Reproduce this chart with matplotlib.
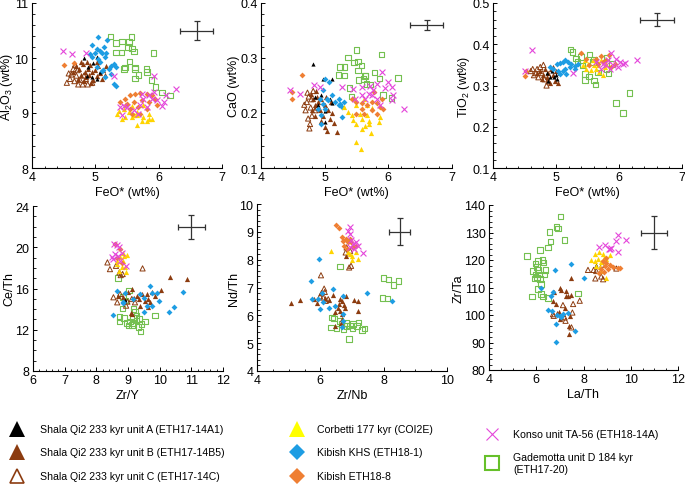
import numpy as np
import matplotlib
matplotlib.use("Agg")
import matplotlib.pyplot as plt
from matplotlib.lines import Line2D
from matplotlib.ticker import MultipleLocator, FormatStrFormatter

plt.rcParams['font.family'] = ['Liberation Sans', 'DejaVu Sans']
plt.rcParams['mathtext.default'] = 'regular'

# ---- data: (x, y) pairs, one dict per panel ----
al2o3 = {
    'gad': [(5.24,10.39),(5.33,10.27),(5.42,10.30),(5.53,10.29),(5.57,10.38),(5.52,10.20),(5.58,10.17),
            (5.61,10.12),(5.41,10.10),(5.33,10.10),(5.92,10.09),(5.54,9.94),(5.47,9.83),(5.45,9.80),
            (5.63,9.83),(5.63,9.80),(5.68,9.69),(5.63,9.63),(5.81,9.80),(5.82,9.75),(5.89,9.60),
            (5.95,9.47),(6.05,9.37),(6.18,9.32)],
    'C': [(4.55,9.55),(4.60,9.62),(4.62,9.70),(4.67,9.58),(4.70,9.68),(4.73,9.52),(4.76,9.60),(4.80,9.52),
          (4.85,9.62),(4.88,9.52),(4.65,9.80),(4.72,9.78),(4.95,9.55),(4.58,9.72),(4.68,9.88),(4.82,9.68)],
    'B': [(4.65,9.75),(4.70,9.85),(4.75,9.80),(4.78,9.70),(4.80,9.90),(4.83,9.75),(4.85,9.65),(4.88,9.80),
          (4.90,9.70),(4.92,9.88),(4.95,9.75),(4.97,9.60),(5.00,9.78),(5.02,9.68),(5.05,9.85),(5.07,9.72),
          (5.10,9.62),(5.12,9.78),(5.15,9.70),(4.72,9.62),(4.82,9.58),(4.93,9.55),(5.03,9.92),(4.87,9.93),
          (5.17,9.85),(4.77,9.93)],
    'A': [(4.82,10.00),(5.02,10.01),(4.87,9.68),(4.95,9.65),(5.03,9.62),(5.08,9.74),(4.89,9.83),(4.97,9.91)],
    'khs': [(5.04,10.38),(5.18,10.32),(4.95,10.23),(5.03,10.17),(5.08,10.13),(5.11,10.10),(5.00,10.10),
            (4.92,10.07),(5.13,10.20),(5.17,10.09),(4.95,10.01),(5.05,9.98),(5.16,10.01),(5.08,9.92),
            (5.24,9.86),(5.32,9.83),(5.29,9.89),(5.21,9.80),(5.12,9.79),(5.03,9.83),(5.24,9.71),
            (5.29,9.53),(5.32,9.49),(5.11,9.77),(5.16,9.65)],
    'cor': [(5.37,9.03),(5.45,9.08),(5.53,9.02),(5.61,8.96),(5.66,9.02),(5.76,8.93),(5.84,8.99),(5.89,8.90),
            (5.82,8.86),(5.74,8.86),(5.66,8.96),(5.58,8.93),(5.47,8.93),(5.42,8.90),(5.34,8.99),(5.66,8.79),
            (5.84,8.90),(5.47,9.14),(5.58,9.12),(5.76,9.14)],
    'k8': [(4.50,9.88),(4.67,9.91),(5.47,9.26),(5.55,9.32),(5.63,9.35),(5.71,9.37),(5.82,9.35),(5.89,9.32),
           (5.95,9.26),(5.50,9.17),(5.61,9.20),(5.74,9.23),(5.84,9.20),(5.39,9.20),(5.55,9.08),(5.68,9.11),
           (5.82,9.08),(5.71,8.99),(5.58,8.99),(5.97,9.14)],
    'konso': [(4.49,10.13),(4.63,10.07),(4.86,10.10),(5.29,9.67),(5.92,9.67),(6.27,9.44),(6.11,9.32),
              (6.08,9.20),(5.92,9.38),(5.89,9.26),(5.84,9.32),(5.76,9.26),(5.71,9.14),(5.61,9.05),(5.50,9.11),
              (5.45,9.12),(5.39,9.11),(5.42,8.96),(5.97,9.23),(6.05,9.12),(5.74,9.35),(5.82,9.11),(5.68,8.99)],
}

cao = {
    'gad': [(5.37,0.301),(5.50,0.315),(5.52,0.294),(5.46,0.292),(5.58,0.286),(5.31,0.284),(5.24,0.284),
            (5.22,0.269),(5.31,0.268),(5.52,0.277),(5.53,0.260),(5.61,0.262),(5.63,0.267),(5.64,0.268),
            (5.78,0.274),(5.89,0.306),(5.86,0.263),(6.15,0.264),(5.66,0.253),(5.71,0.252),(5.39,0.245),
            (5.42,0.230),(6.05,0.227),(5.92,0.233)],
    'C': [(4.72,0.220),(4.75,0.230),(4.78,0.210),(4.80,0.195),(4.70,0.205),(4.74,0.190),(4.77,0.180),
          (4.82,0.240),(4.68,0.215),(4.73,0.237),(4.85,0.205),(4.79,0.225),(4.76,0.172),(4.88,0.210)],
    'B': [(4.78,0.235),(4.82,0.225),(4.85,0.215),(4.88,0.230),(4.90,0.220),(4.92,0.205),(4.95,0.225),
          (4.97,0.195),(5.00,0.215),(5.02,0.230),(5.05,0.205),(5.08,0.190),(5.10,0.220),(5.12,0.200),
          (5.14,0.182),(5.00,0.175),(5.04,0.168),(4.85,0.195),(4.80,0.205),(5.20,0.165),(4.95,0.185),
          (4.87,0.240)],
    'A': [(4.81,0.289),(4.98,0.261),(5.11,0.261),(4.85,0.229),(4.95,0.232),(5.09,0.226),(4.90,0.214),
          (5.00,0.203),(5.01,0.183),(5.11,0.218)],
    'khs': [(5.01,0.261),(5.07,0.256),(4.98,0.241),(4.93,0.226),(4.98,0.217),(4.90,0.208),(5.01,0.208),
            (5.06,0.223),(5.11,0.232),(5.22,0.226),(5.24,0.217),(5.22,0.214),(5.30,0.220),(5.27,0.211),
            (5.16,0.220),(5.03,0.226),(4.95,0.196),(4.95,0.180),(5.27,0.193)],
    'cor': [(5.30,0.211),(5.37,0.202),(5.43,0.196),(5.45,0.187),(5.50,0.180),(5.58,0.171),(5.64,0.177),
            (5.69,0.186),(5.69,0.180),(5.66,0.196),(5.56,0.199),(5.50,0.214),(5.48,0.226),(5.61,0.226),
            (5.66,0.215),(5.74,0.209),(5.87,0.193),(5.85,0.183),(5.73,0.164),(5.50,0.147),(5.57,0.135),
            (5.58,0.189)],
    'k8': [(4.65,0.269),(4.48,0.238),(4.48,0.226),(5.43,0.226),(5.50,0.220),(5.58,0.208),(5.66,0.214),
           (5.74,0.205),(5.82,0.199),(5.87,0.211),(5.92,0.208),(5.50,0.199),(5.62,0.199),(5.74,0.220),
           (5.82,0.219),(5.58,0.218),(5.77,0.238),(5.90,0.226)],
    'konso': [(4.46,0.241),(4.62,0.235),(4.84,0.251),(4.93,0.247),(5.27,0.248),(5.45,0.244),(5.58,0.247),
              (5.71,0.249),(5.82,0.253),(5.90,0.274),(5.99,0.257),(6.06,0.247),(6.08,0.232),(6.05,0.223),
              (6.24,0.208),(5.74,0.232),(5.82,0.226),(5.87,0.215),(5.64,0.226),(5.69,0.235),(5.94,0.245),
              (5.48,0.226),(5.58,0.232),(5.76,0.241)],
}

tio2 = {
    'gad': [(5.23,0.387),(5.26,0.381),(5.32,0.365),(5.34,0.357),(5.40,0.369),(5.42,0.348),(5.46,0.328),
            (5.46,0.314),(5.52,0.322),(5.60,0.312),(5.63,0.302),(5.53,0.375),(5.59,0.357),(5.67,0.332),
            (5.80,0.340),(5.83,0.329),(5.89,0.352),(5.80,0.368),(6.17,0.282),(5.95,0.258),(6.06,0.234),
            (5.60,0.363)],
    'C': [(4.60,0.335),(4.63,0.340),(4.65,0.325),(4.68,0.330),(4.72,0.320),(4.75,0.345),(4.78,0.330),
          (4.82,0.315),(4.85,0.300),(4.88,0.310),(4.80,0.350),(4.70,0.340)],
    'B': [(4.70,0.330),(4.75,0.335),(4.80,0.325),(4.83,0.340),(4.85,0.320),(4.88,0.330),(4.92,0.340),
          (4.95,0.325),(4.98,0.310),(5.00,0.335),(5.03,0.305),(4.78,0.315),(4.90,0.305),(4.96,0.345)],
    'A': [(4.85,0.330),(4.90,0.320),(4.93,0.335),(4.97,0.320),(5.00,0.325),(5.05,0.330),(4.88,0.310),
          (5.02,0.315)],
    'khs': [(5.01,0.352),(5.06,0.355),(5.11,0.358),(5.14,0.361),(5.19,0.356),(5.24,0.352),(5.30,0.348),
            (5.35,0.352),(4.90,0.344),(4.96,0.340),(5.03,0.336),(5.11,0.334),(5.16,0.328),(5.14,0.340),
            (5.22,0.344),(5.06,0.328),(5.30,0.340)],
    'cor': [(5.43,0.349),(5.48,0.341),(5.56,0.337),(5.64,0.341),(5.69,0.333),(5.75,0.326),(5.51,0.353),
            (5.59,0.361),(5.67,0.349),(5.77,0.345),(5.80,0.353),(5.46,0.361),(5.61,0.349),(5.72,0.361)],
    'k8': [(4.50,0.323),(4.53,0.334),(5.40,0.379),(5.48,0.365),(5.64,0.365),(5.72,0.371),(5.84,0.373),
           (5.80,0.363),(5.93,0.353),(5.67,0.353),(5.53,0.350),(5.75,0.356),(5.88,0.345)],
    'konso': [(4.62,0.387),(4.50,0.336),(5.27,0.330),(5.88,0.378),(6.09,0.355),(6.28,0.363),(5.64,0.357),
              (5.75,0.353),(5.83,0.361),(5.90,0.349),(5.96,0.365),(5.72,0.341),(5.85,0.341),(5.98,0.345),
              (5.80,0.349),(6.01,0.357),(6.06,0.351)],
}

ce_th = {
    'gad': [(9.04,15.79),(8.85,15.15),(8.90,14.82),(9.17,14.02),(9.22,13.70),(8.83,14.08),(8.73,13.21),
            (8.73,12.80),(8.87,13.12),(8.96,12.67),(9.06,12.80),(9.12,12.47),(9.17,12.67),(9.27,12.89),
            (9.36,13.05),(9.43,12.57),(9.27,13.38),(9.15,13.12),(9.01,12.41),(9.40,11.83),(9.86,13.38),
            (9.54,12.80),(9.33,12.25),(8.69,17.01)],
    'C': [(8.35,18.53),(8.43,17.88),(8.62,18.20),(8.73,17.56),(8.77,17.30),(8.83,17.40),(9.46,17.95),
          (8.54,15.15),(8.66,14.66),(8.94,14.34),(8.98,14.73),(9.12,14.98),(8.75,15.47),(9.22,14.66)],
    'B': [(8.69,15.31),(8.83,15.15),(8.99,15.63),(9.13,15.95),(9.27,15.24),(9.36,14.98),(9.43,15.47),
          (9.59,15.47),(9.64,14.98),(9.75,15.63),(9.86,15.31),(10.05,15.89),(10.33,17.08),(10.86,16.92),
          (9.12,13.54),(9.38,14.28),(9.64,14.18),(9.19,15.08),(9.54,14.82),(9.70,14.66),(9.08,13.63)],
    'A': [(8.90,14.90)],
    'khs': [(8.64,15.79),(8.54,13.47),(8.90,15.56),(9.15,14.98),(8.83,14.73),(9.38,15.47),(9.51,15.11),
            (9.68,16.27),(9.75,15.56),(9.91,15.53),(9.99,14.79),(9.59,14.28),(9.49,13.76),(9.75,14.34),
            (10.28,13.76),(10.46,14.18),(10.73,15.63),(8.85,14.60)],
    'cor': [(8.98,19.27),(8.83,19.49),(8.75,19.01),(8.85,18.69),(8.66,18.37),(8.80,18.04),(8.90,18.04),
            (8.71,17.72),(8.93,17.56),(8.64,18.69),(8.87,19.17)],
    'k8': [(8.59,20.30),(8.75,19.80),(8.66,19.00),(8.80,18.50)],
    'konso': [(8.56,20.30),(8.64,20.23),(8.73,19.98),(8.59,19.33),(8.69,19.17),(8.80,19.49),(8.54,18.85),
              (8.94,18.20),(8.75,18.69),(8.48,19.01)],
}

nd_th = {
    'gad': [(6.62,7.76),(7.99,7.35),(8.15,7.28),(8.31,7.08),(8.47,7.23),(7.97,6.63),(8.12,6.60),(6.36,5.92),
            (6.44,5.88),(6.62,5.80),(6.33,5.56),(6.51,5.52),(6.73,5.50),(6.83,5.72),(6.94,5.64),(7.04,5.68),
            (7.15,5.62),(7.01,5.52),(7.31,5.48),(7.39,5.52),(6.90,5.14),(6.83,5.62),(6.67,5.68),(7.20,5.74)],
    'C': [(6.83,8.44),(6.94,8.32),(6.97,7.78),(6.91,7.72),(6.02,7.44),(6.12,6.96),(6.14,6.84),(6.04,6.80),
          (5.99,6.68),(6.09,6.64),(6.17,6.52),(6.25,6.58),(6.80,8.26)],
    'B': [(6.80,8.14),(5.06,6.44),(5.35,6.56),(5.81,6.60),(5.91,6.46),(6.14,6.64),(6.27,6.56),(6.41,6.72),
          (6.62,6.58),(6.69,6.52),(6.75,6.36),(6.80,6.68),(6.59,6.40),(6.46,6.12),(6.62,6.16),(6.78,6.28),
          (7.06,6.56),(7.20,6.51),(7.18,6.15),(6.69,5.86),(6.65,5.72),(6.46,5.62),(6.69,6.04),(6.57,6.28)],
    'A': [],
    'khs': [(5.96,8.02),(5.69,7.24),(6.04,6.82),(6.41,6.94),(5.75,6.60),(5.99,6.22),(5.93,6.60),(6.09,6.48),
            (6.27,6.28),(6.46,6.32),(6.73,6.70),(6.73,6.04),(6.73,5.78),(6.69,5.58),(7.46,6.80),(8.26,6.52)],
    'cor': [(6.33,8.32),(6.88,8.26),(6.99,8.14),(7.12,8.26),(7.18,8.04),(6.99,7.98),(7.04,8.50),(6.94,8.20)],
    'k8': [(6.51,9.24),(6.60,9.12),(6.67,8.80),(6.73,8.68),(6.80,8.74),(6.88,8.62),(6.76,8.50),(6.97,8.64),
           (7.04,8.44),(6.83,8.38),(7.12,8.50),(6.94,8.76)],
    'konso': [(6.94,9.16),(6.94,8.92),(6.97,8.72),(7.04,8.56),(7.12,8.62),(7.20,8.50),(6.94,8.44),
              (7.34,8.24),(7.07,8.40),(6.88,9.04)],
}

zr_ta = {
    'gad': [(7.02,135.8),(6.85,132.1),(6.92,131.4),(6.57,130.2),(7.20,127.3),(6.60,126.8),(6.50,124.5),
            (6.17,123.7),(5.61,121.5),(6.26,120.0),(6.07,119.7),(6.31,119.1),(5.97,118.7),(6.03,117.5),
            (5.86,116.0),(6.07,116.3),(6.40,116.4),(6.35,114.8),(6.14,114.8),(5.97,114.8),(6.03,113.6),
            (6.17,113.0),(5.93,113.3),(6.21,111.2),(6.07,109.4),(6.21,107.6),(6.28,106.7),(5.81,106.7),
            (6.50,106.1),(7.77,107.8)],
    'C': [(8.19,116.4),(8.43,116.4),(8.54,116.0),(8.50,113.3),(8.75,114.0),(8.83,113.0),(8.80,118.3),
          (9.39,116.9),(7.84,105.2),(7.56,104.0),(7.13,103.6),(6.74,99.7),(7.20,99.1),(7.24,97.9),
          (7.53,100.9),(7.49,95.5),(6.71,100.3)],
    'B': [(7.49,113.6),(6.99,110.0),(7.06,109.2),(6.74,108.4),(7.25,108.8),(6.71,105.2),(6.85,104.0),
          (7.34,107.0),(7.49,107.2),(7.23,102.7),(6.96,101.2),(6.88,100.9),(7.13,100.3),(7.06,99.1),
          (6.99,98.5),(7.41,99.7),(7.38,96.1),(7.37,93.1),(7.27,107.0)],
    'A': [(8.54,118.3)],
    'khs': [(6.78,116.4),(7.48,118.5),(8.01,113.6),(6.22,110.0),(6.61,107.0),(6.71,108.4),(6.50,101.9),
            (6.68,101.5),(6.88,100.0),(7.13,100.3),(7.06,99.1),(7.34,100.9),(6.85,96.7),(6.82,90.3),
            (7.63,94.3),(6.99,99.7)],
    'cor': [(8.33,119.9),(8.47,122.1),(8.66,122.9),(8.82,122.1),(8.85,120.9),(8.75,119.1),(8.54,117.9),
            (8.68,117.3),(8.94,120.5),(9.14,121.7),(8.75,116.0),(8.94,113.6),(8.47,119.7),(8.61,120.3)],
    'k8': [(8.82,119.7),(8.97,118.8),(8.90,117.9),(8.75,116.7),(9.04,116.7),(9.11,118.1),(8.97,120.9),
           (9.25,117.3),(9.46,117.0),(9.53,117.1),(8.86,115.7),(8.66,115.2)],
    'konso': [(8.66,124.8),(8.92,125.4),(9.08,123.9),(9.18,124.5),(9.39,126.9),(9.46,129.0),(9.78,127.2),
              (9.46,123.0),(9.11,123.9)],
}

# error bars: (x, y, xerr, yerr)
errbars = [(6.6, 10.5, 0.26, 0.17), (6.6, 0.36, 0.26, 0.009), (6.6, 0.46, 0.27, 0.016),
           (11.0, 22.0, 0.42, 1.16), (8.5, 9.0, 0.33, 0.49), (11.0, 130.0, 0.55, 6.0)]

labels = {
    'A': 'Shala Qi2 233 kyr unit A (ETH17-14A1)',
    'B': 'Shala Qi2 233 kyr unit B (ETH17-14B5)',
    'C': 'Shala Qi2 233 kyr unit C (ETH17-14C)',
    'cor': 'Corbetti 177 kyr (COI2E)',
    'khs': 'Kibish KHS (ETH18-1)',
    'k8': 'Kibish ETH18-8',
    'konso': 'Konso unit TA-56 (ETH18-14A)',
    'gad': 'Gademotta unit D 184 kyr\n(ETH17-20)',
}

BROWN = '#8c3c10'
styles = {
    'gad': dict(marker='s', facecolors='none', edgecolors='#74c050', s=16, linewidths=0.8),
    'C': dict(marker='^', facecolors='none', edgecolors=BROWN, s=14, linewidths=0.7),
    'B': dict(marker='^', color=BROWN, s=14, linewidths=0),
    'A': dict(marker='^', color='black', s=9, linewidths=0),
    'khs': dict(marker='D', color='#1e9de3', s=9, linewidths=0),
    'cor': dict(marker='^', color='#ffd400', s=14, linewidths=0),
    'k8': dict(marker='D', color='#ef7f33', s=9, linewidths=0),
    'konso': dict(marker='x', color='#e446da', s=18, linewidths=0.8),
}
order = ['gad', 'C', 'B', 'A', 'khs', 'cor', 'k8', 'konso']

fig = plt.figure(figsize=(6.85, 4.85), dpi=100)

panels = [
    (al2o3, [32, 4, 190, 165], (4, 7), (8, 11), 1, 0.2, 1, 0.2, 'FeO* (wt%)', r'Al$_2$O$_3$ (wt%)', '%g', '%g'),
    (cao, [261, 4, 191, 165], (4, 7), (0.1, 0.4), 1, 0.2, 0.1, 0.02, 'FeO* (wt%)', 'CaO (wt%)', '%g', '%.1f'),
    (tio2, [493, 4, 189, 165], (4, 7), (0.1, 0.5), 1, 0.2, 0.1, 0.02, 'FeO* (wt%)', r'TiO$_2$ (wt%)', '%g', '%.1f'),
    (ce_th, [33, 207, 190, 165], (6, 12), (8, 24), 1, 0.2, 4, 1, 'Zr/Y', 'Ce/Th', '%g', '%g'),
    (nd_th, [257, 205, 190, 167], (4, 10), (4, 10), 2, 0.5, 1, 0.2, 'Zr/Nb', 'Nd/Th', '%g', '%g'),
    (zr_ta, [489, 206, 189, 165], (4, 12), (80, 140), 2, 0.5, 10, 2, 'La/Th', 'Zr/Ta', '%g', '%g'),
]

W, H = 685, 485
for i, (data, box, xl, yl, xmaj, xmin, ymaj, ymin, xlab, ylab, xf, yf) in enumerate(panels):
    l, t, w, h = box
    ax = fig.add_axes([l / W, 1 - (t + h) / H, w / W, h / H])
    for g in order:
        pts = np.array(data[g]).reshape(-1, 2)
        if len(pts):
            ax.scatter(pts[:, 0], pts[:, 1], **styles[g])
    ex, ey, exe, eye = errbars[i]
    ax.errorbar([ex], [ey], xerr=[exe], yerr=[eye], fmt='none', ecolor='#333333',
                elinewidth=0.9, capsize=2.5, capthick=0.9)
    ax.set_xlim(*xl)
    ax.set_ylim(*yl)
    ax.xaxis.set_major_locator(MultipleLocator(xmaj))
    ax.xaxis.set_minor_locator(MultipleLocator(xmin))
    ax.yaxis.set_major_locator(MultipleLocator(ymaj))
    ax.yaxis.set_minor_locator(MultipleLocator(ymin))
    ax.xaxis.set_major_formatter(FormatStrFormatter(xf))
    ax.yaxis.set_major_formatter(FormatStrFormatter(yf))
    for s in ['top', 'right']:
        ax.spines[s].set_visible(False)
    for s in ['left', 'bottom']:
        ax.spines[s].set_linewidth(0.8)
    ax.tick_params(which='major', direction='in', length=3, width=0.7, labelsize=9, pad=2.5)
    ax.tick_params(which='minor', direction='in', length=1.8, width=0.6)
    ax.set_xlabel(xlab, fontsize=9, labelpad=2)
    ax.set_ylabel(ylab, fontsize=9, labelpad=0)

# ---- legend, drawn by hand below the panels ----
leg_marks = {
    'A': dict(marker='^', color='black', ms=11, mew=0),
    'B': dict(marker='^', color=BROWN, ms=11, mew=0),
    'C': dict(marker='^', mfc='none', mec=BROWN, ms=10, mew=1.2),
    'cor': dict(marker='^', color='#ffff00', ms=11, mew=0),
    'khs': dict(marker='D', color='#1e9de3', ms=8, mew=0),
    'k8': dict(marker='D', color='#ef7f33', ms=8, mew=0),
    'konso': dict(marker='x', color='#e446da', ms=8, mew=0.8),
    'gad': dict(marker='s', mfc='none', mec='#66c02a', ms=10, mew=1.5),
}
leg_pos = [('A', 17, 40, 430), ('B', 17, 40, 453), ('C', 17, 40, 477),
           ('cor', 297, 317, 430), ('khs', 297, 317, 453), ('k8', 297, 317, 477),
           ('konso', 492, 513, 435), ('gad', 492, 513, 464)]
for g, mx, tx, y in leg_pos:
    fig.add_artist(Line2D([mx / W], [1 - y / H], transform=fig.transFigure, ls='none', **leg_marks[g]))
    fig.text(tx / W, 1 - y / H, labels[g], fontsize=7.6, va='center', ha='left', linespacing=1.25)

fig.savefig('out.png', dpi=100)
